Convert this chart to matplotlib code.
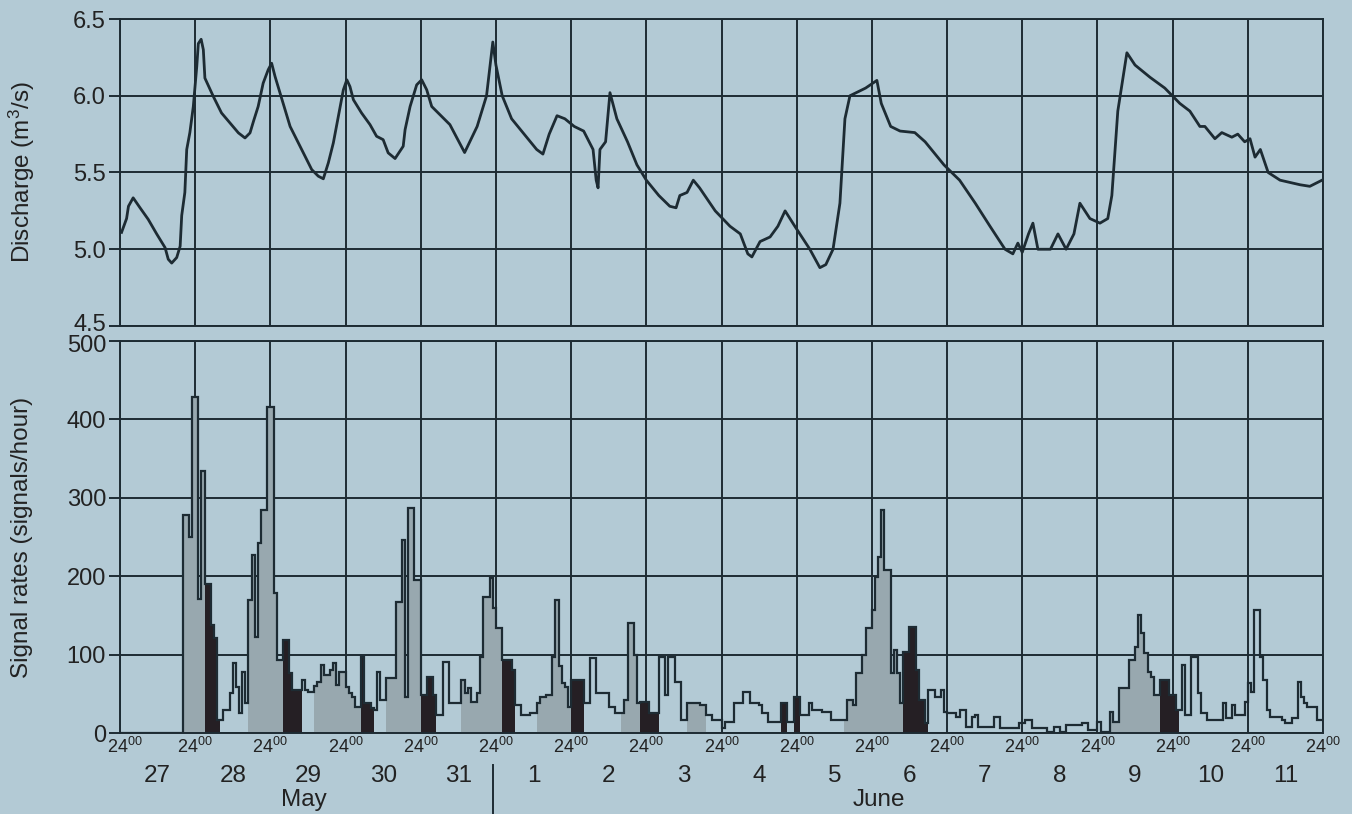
import numpy as np
import matplotlib
matplotlib.use("Agg")
import matplotlib.pyplot as plt
import matplotlib.transforms as mtrans

plt.rcParams['font.family'] = ['Liberation Sans', 'DejaVu Sans']
plt.rcParams['mathtext.fontset'] = 'custom'
plt.rcParams['mathtext.rm'] = 'Liberation Sans'
plt.rcParams['mathtext.it'] = 'Liberation Sans:italic'
plt.rcParams['mathtext.bf'] = 'Liberation Sans:bold'

# ---------------- data ----------------
day_labels = ['27', '28', '29', '30', '31', '1', '2', '3', '4', '5', '6', '7', '8', '9', '10', '11']
month_labels = ['May', 'June']
discharge_yticks = [4.5, 5.0, 5.5, 6.0, 6.5]
signal_yticks = [0, 100, 200, 300, 400, 500]

# discharge readings: hour since start (24:00 of 26 May) and m3/s
discharge_hours = [0.5, 2.1, 2.7, 4.2, 6.4, 9, 11.7, 14.4, 15.4, 16.5, 18.1, 19.2, 19.7, 20.7, 21.3, 22.3,
                   23.4, 24.5, 25, 25.9, 26.6, 27.1, 29.8, 32.4, 35.1, 37.8, 39.9, 41.5, 42.6, 44.1, 45.7,
                   47.3, 48.4, 49.5, 51.1, 52.7, 54.3, 56.4, 59, 61.2, 63.3, 64.9, 66.5, 68.1, 69.7, 71.3,
                   72.4, 73.4, 74.5, 77.1, 79.8, 81.9, 84, 85.6, 87.8, 90.4, 91, 92.6, 94.7, 96.3, 97.9,
                   99.5, 102.1, 105.3, 110, 114, 117, 119, 120, 122, 125, 129, 133, 135, 137, 139.5,
                   142, 145, 148, 151, 152, 152.6, 153.2, 155, 156.4, 158.6, 162, 165, 168, 172, 175.5,
                   177.5, 178.7, 181, 183, 185, 190, 194.7, 198, 200.4, 201.7, 204.3, 207.5, 210, 212.3,
                   215.4, 220.2, 223.4, 225.3, 227.6, 229.8, 231.4, 233, 238, 241.6, 243, 246, 249, 253.7,
                   257, 263, 268, 273, 277.7, 282.5, 285, 286.6, 288, 290, 291.4, 293, 297, 299.4, 302,
                   304.5, 306.4, 309.6, 312.8, 315.3, 316.6, 318.5, 321.4, 324, 328.8, 333.5, 338.3,
                   341.5, 344.7, 346.3, 349.5, 351.7, 354.9, 356.8, 359, 360.7, 362.3, 364, 366.5,
                   370.3, 376.7, 379.8, 383.7]
discharge_vals = [5.11, 5.2, 5.28, 5.335, 5.27, 5.195, 5.10, 5.01, 4.935, 4.91, 4.946, 5.02, 5.22, 5.37,
                  5.65, 5.76, 5.93, 6.19, 6.34, 6.368, 6.30, 6.115, 5.995, 5.888, 5.823, 5.758, 5.725,
                  5.758, 5.833, 5.93, 6.082, 6.169, 6.212, 6.125, 6.017, 5.909, 5.80, 5.714, 5.606, 5.519,
                  5.476, 5.459, 5.563, 5.693, 5.866, 6.039, 6.104, 6.06, 5.974, 5.888, 5.812, 5.736,
                  5.714, 5.628, 5.591, 5.671, 5.779, 5.93, 6.071, 6.104, 6.039, 5.93, 5.877, 5.812,
                  5.63, 5.8, 6.0, 6.35, 6.2, 6.0, 5.85, 5.75, 5.65, 5.62, 5.75, 5.87,
                  5.85, 5.8, 5.77, 5.65, 5.45, 5.4, 5.65, 5.7, 6.02, 5.85, 5.7, 5.55, 5.45, 5.35, 5.28,
                  5.27, 5.35, 5.37, 5.45, 5.4, 5.25, 5.15, 5.1, 4.97, 4.95, 5.05, 5.08, 5.15, 5.25,
                  5.15, 5.0, 4.88, 4.9, 5.0, 5.3, 5.85, 6.0, 6.05, 6.1, 5.95, 5.8, 5.77, 5.76,
                  5.7, 5.55, 5.45, 5.3, 5.15, 5.0, 4.97, 5.04, 4.98, 5.1, 5.17, 5.0, 5.0, 5.1, 5.0,
                  5.1, 5.3, 5.2, 5.17, 5.2, 5.35, 5.9, 6.28, 6.2, 6.12, 6.05, 5.95,
                  5.9, 5.8, 5.8, 5.72, 5.76, 5.73, 5.75, 5.7, 5.72, 5.6, 5.65, 5.5,
                  5.45, 5.42, 5.41, 5.45]

# hourly signal rates (signals/hour), one row per day
signal_day0 = [0, 0, 0, 0, 0, 0, 0, 0, 0, 0, 0, 0, 0, 0, 0, 0, 0, 0, 0, 0, 278, 278, 250, 428]
signal_day1 = [428, 171, 334, 190, 190, 138, 121, 17, 17, 29, 29, 51, 89, 59, 25, 78, 38, 170, 227, 122, 242, 284, 284, 416]
signal_day2 = [416, 178, 93, 93, 118, 118, 77, 55, 55, 55, 68, 55, 52, 52, 60, 65, 87, 74, 74, 80, 89, 61, 78, 78]
signal_day3 = [59, 51, 46, 33, 33, 97, 38, 38, 32, 29, 78, 42, 42, 70, 70, 70, 167, 167, 246, 46, 287, 287, 195, 195]
signal_day4 = [48, 48, 71, 71, 48, 23, 23, 91, 91, 38, 38, 38, 38, 68, 51, 57, 40, 40, 51, 97, 173, 173, 198, 159]
signal_day5 = [134, 134, 93, 93, 93, 80, 36, 36, 23, 23, 23, 25, 25, 38, 46, 46, 48, 48, 97, 170, 85, 64, 59, 33]
signal_day6 = [68, 68, 68, 68, 38, 38, 96, 96, 51, 51, 51, 51, 33, 33, 25, 25, 25, 42, 140, 140, 100, 38, 40, 40]
signal_day7 = [40, 25, 25, 25, 97, 97, 48, 97, 97, 65, 65, 17, 17, 38, 38, 38, 38, 36, 36, 23, 23, 17, 17, 17]
signal_day8 = [6, 14, 14, 14, 38, 38, 38, 52, 52, 38, 38, 38, 36, 25, 25, 14, 14, 14, 14, 38, 38, 14, 14, 46]
signal_day9 = [46, 23, 23, 23, 38, 29, 29, 29, 27, 27, 27, 17, 17, 17, 17, 17, 42, 42, 36, 77, 77, 100, 134, 134]
signal_day10 = [157, 199, 225, 284, 208, 208, 77, 106, 77, 38, 103, 103, 135, 135, 80, 42, 42, 13, 55, 55, 46, 46, 55, 27]
signal_day11 = [25, 25, 25, 20, 29, 29, 8, 8, 20, 23, 8, 8, 8, 8, 8, 20, 20, 6, 6, 6, 6, 6, 6, 13]
signal_day12 = [13, 17, 17, 6, 6, 6, 6, 6, 1, 1, 8, 8, 1, 1, 10, 10, 10, 10, 10, 13, 13, 4, 4, 4]
signal_day13 = [14, 1, 1, 1, 27, 14, 14, 57, 57, 57, 93, 93, 110, 150, 128, 102, 78, 71, 48, 48, 68, 68, 68, 48]
signal_day14 = [48, 29, 29, 87, 23, 23, 97, 97, 51, 25, 25, 17, 17, 17, 17, 17, 38, 19, 19, 36, 23, 23, 23, 40]
signal_day15 = [64, 52, 157, 157, 97, 68, 29, 20, 20, 20, 20, 17, 13, 13, 19, 19, 65, 46, 38, 33, 33, 33, 17, 17]

# shaded hour intervals (start, end)
light_periods = [(20, 27), (41, 52), (62, 77), (85, 96), (109, 122), (133, 144), (160, 166),
                 (181, 187), (231, 250), (313, 332)]
dark_periods = [(27, 32), (52, 58), (77, 81), (96, 101), (122, 126), (144, 148), (166, 172),
                (211, 213), (215, 217), (250, 258), (332, 338)]

# ---------------- drawing ----------------
signal = np.array(signal_day0 + signal_day1 + signal_day2 + signal_day3 + signal_day4 + signal_day5 +
                  signal_day6 + signal_day7 + signal_day8 + signal_day9 + signal_day10 + signal_day11 +
                  signal_day12 + signal_day13 + signal_day14 + signal_day15, dtype=float)
n_hours = len(signal)
edges = np.arange(n_hours + 1)
day_edges = np.arange(0, n_hours + 1, 24)

BG = '#b3cad5'
INK = '#1d2b33'
LIGHT = '#98a8af'
DARK = '#251f24'
TXT = '#222222'

fig = plt.figure(figsize=(13.52, 8.14), dpi=100, facecolor=BG)
ax1 = fig.add_axes([120 / 1352, 1 - 326 / 814, 1203 / 1352, 307 / 814])
ax2 = fig.add_axes([120 / 1352, 1 - 733 / 814, 1203 / 1352, 392 / 814])

for ax in (ax1, ax2):
    ax.set_facecolor(BG)
    ax.set_xlim(0, n_hours)
    ax.set_xticks(day_edges)
    ax.grid(True, color=INK, lw=1.4)
    ax.set_axisbelow(True)
    for s in ax.spines.values():
        s.set_color(INK)
        s.set_linewidth(1.4)
    ax.tick_params(axis='y', direction='out', length=8, width=1.4, color=INK,
                   labelsize=17, labelcolor=TXT, pad=2)
    ax.tick_params(axis='x', length=0)

# top panel
ax1.plot(discharge_hours, discharge_vals, color=INK, lw=2.0)
ax1.set_ylim(4.5, 6.5)
ax1.set_yticks(discharge_yticks)
ax1.set_yticklabels([f'{v:.1f}' for v in discharge_yticks])
ax1.set_xticklabels([])

# bottom panel
for s, e in light_periods:
    ax2.stairs(signal[s:e], edges[s:e + 1], fill=True, color=LIGHT, lw=0)
for s, e in dark_periods:
    ax2.stairs(signal[s:e], edges[s:e + 1], fill=True, color=DARK, lw=0)
ax2.stairs(signal, edges, color=INK, lw=1.6, baseline=None)
ax2.set_ylim(0, 500)
ax2.set_yticks(signal_yticks)
ax2.set_yticklabels([str(v) for v in signal_yticks])
ax2.set_xticklabels([r'$\mathregular{24^{00}}$'] * len(day_edges), fontsize=13, color=TXT)
ax2.tick_params(axis='x', pad=3)

# nudge crowded labels apart
def nudge(label, dx, dy):
    label.set_transform(label.get_transform() +
                        mtrans.ScaledTranslation(dx / 100, dy / 100, fig.dpi_scale_trans))

nudge(ax1.get_yticklabels()[0], 0, 3)
nudge(ax2.get_yticklabels()[-1], 0, -2)
nudge(ax2.get_xticklabels()[0], 5, 0)

trans = mtrans.blended_transform_factory(ax2.transData, ax2.transAxes)
for i, lab in enumerate(day_labels):
    ax2.text(i * 24 + 12, -0.11, lab, transform=trans, ha='center', va='center',
             fontsize=17.5, color=TXT)
ax2.text(2.45 * 24, -0.172, month_labels[0], transform=trans, ha='center', va='center',
         fontsize=17.5, color=TXT)
ax2.text(10.1 * 24, -0.172, month_labels[1], transform=trans, ha='center', va='center',
         fontsize=17.5, color=TXT)
ax2.plot([5 * 24 - 0.8, 5 * 24 - 0.8], [-0.082, -0.21], transform=trans, color=INK, lw=1.4,
         clip_on=False)

fig.text(22 / 1352, 1 - 172 / 814, 'Discharge (m$^3$/s)', rotation=90, ha='center', va='center',
         fontsize=17.5, color=TXT)
fig.text(22 / 1352, 1 - 537 / 814, 'Signal rates (signals/hour)', rotation=90, ha='center',
         va='center', fontsize=17.5, color=TXT)

fig.savefig('out.png', dpi=100, facecolor=BG)
